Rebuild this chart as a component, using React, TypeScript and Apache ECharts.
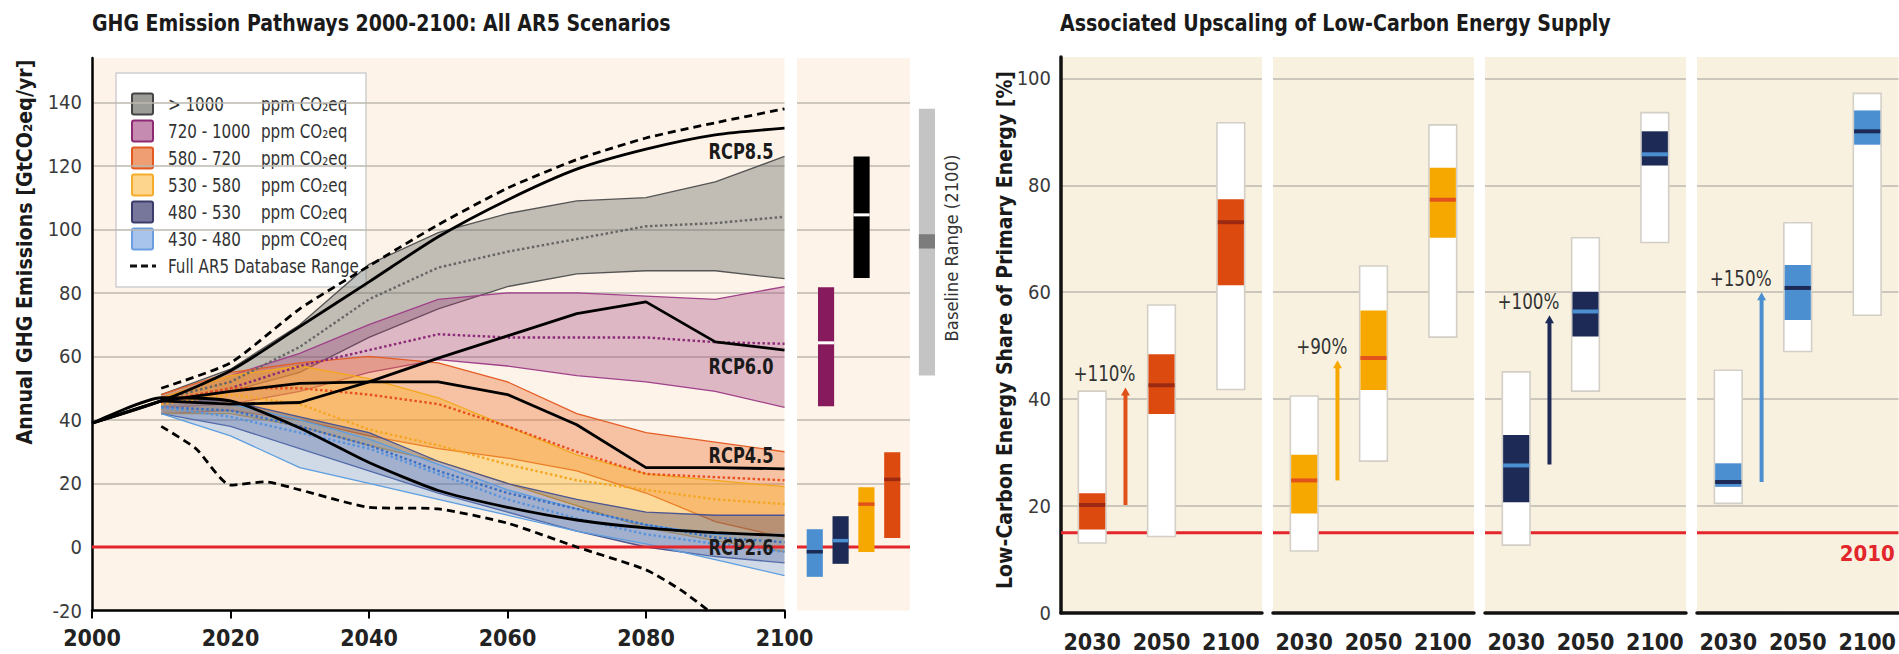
import React, { useEffect, useRef } from 'react';
import * as echarts from 'echarts';

const NARROW = '"Liberation Sans Narrow", "Arial Narrow", "DejaVu Sans Condensed", "Liberation Sans", sans-serif';
const BG_LEFT = '#fdf3e8';
const BG_RIGHT = '#f9f1e0';
const GRID_LINE = '#bdb9b0';
const RED = '#e2262b';

// ================= Left panel: GHG emission pathways =================
const bandYears = [2010, 2020, 2030, 2040, 2050, 2060, 2070, 2080, 2090, 2100];

const over1000Low = [45, 49, 55, 66, 75, 82, 86, 87, 87, 84.5];
const over1000High = [48, 56, 70, 89, 99, 105, 109, 110, 115, 123];
const over1000Median = [46.5, 52, 63, 78, 88, 93, 97, 101, 102, 104];

const ppm720Low = [44, 45, 49, 55, 59, 57, 54, 52, 49, 44];
const ppm720High = [47, 54, 61, 70, 78, 80, 80, 79, 78, 82];
const ppm720Median = [45.5, 50, 57, 62, 67, 66, 66, 66, 64.5, 64];

const ppm580Low = [42, 43, 40, 35, 31, 28, 24, 17, 8, 3];
const ppm580High = [48, 55, 58, 60, 58, 52, 42, 36, 33, 30];
const ppm580Median = [46, 50, 50, 48, 45, 38, 30, 23, 22, 21];

const ppm530Low = [42, 42, 38, 32, 27, 20, 13, 6, 2, -1.5];
const ppm530High = [47, 54, 57, 53, 47, 38, 29, 23, 21, 19];
const ppm530Median = [45, 48, 45, 37, 32, 26, 21, 18, 15, 13.5];

const ppm480Low = [42, 38, 31, 24, 17, 11, 5, 0, -3, -5];
const ppm480High = [46, 46, 41, 36, 27, 20, 15, 11, 10, 10];
const ppm480Median = [44, 43, 38, 32, 24, 17, 12, 7, 3, 1.5];

const ppm430Low = [42, 35, 25, 20, 15, 10, 5, 1, -4, -9];
const ppm430High = [46, 45, 40, 34, 26, 18, 12, 7, 4, 4];
const ppm430Median = [44, 41, 36, 31, 23, 15, 9, 4, 1, -1.5];

const rcpYears = [2000, 2010, 2020, 2030, 2040, 2050, 2060, 2070, 2080, 2090, 2100];
const rcp85 = [39, 46, 55.5, 69.4, 83.5, 97.7, 109.3, 119, 125.3, 129.8, 131.9];
const rcp60 = [39, 46, 45, 45.5, 52, 59.5, 66.5, 73.5, 77.2, 64.6, 62];
const rcp45 = [39, 46, 49, 51.5, 52, 52, 48, 38.5, 25, 25, 24.6];
const rcp26 = [39, 47, 46, 37.5, 26.6, 17.8, 12.5, 8.5, 6, 4.5, 3.6];

const rcpLabelNames = ['RCP8.5', 'RCP6.0', 'RCP4.5', 'RCP2.6'];
const rcpLabelValue = [124.4, 56.7, 28.7, -0.3];

const fullUpperYears = [2010, 2020, 2030, 2040, 2050, 2060, 2070, 2080, 2090, 2100];
const fullUpper = [50, 58, 75, 88.5, 101.5, 113, 122, 128.8, 133.6, 138];
const fullLowerYears = [2010, 2015, 2020, 2025, 2030, 2040, 2050, 2060, 2070, 2080, 2085, 2089];
const fullLower = [38, 31, 19.5, 20.5, 18, 12.5, 12, 7.5, 0, -7.2, -13.5, -20];

// 2100 ranges (side panel)
const range2100Slot = [1.1, 1.8, 2.7, 4.0, 4.3, 5.9];
const range2100Low = [-9.4, 44.3, -5.3, 84.7, -1.6, 2.8];
const range2100High = [5.6, 81.8, 9.7, 123, 18.8, 29.8];
const range2100Median = [-1.5, 64.3, 2, 104.6, 13.5, 21.3];
const range2100Color = ['#4b8fd0', '#861a5c', '#1d2a56', '#000000', '#f6a800', '#dd4a10'];
const range2100MedianColor = ['#1d2a56', '#ffffff', '#4b8fd0', '#ffffff', '#e2531c', '#9c2a12'];

const baselineSlot = 8.05;
const baselineRange = [54, 138];
const baselineMedianBand = [94, 98.5];

// legend
const legendRanges = ['> 1000', '720 - 1000', '580 - 720', '530 - 580', '480 - 530', '430 - 480'];
const legendFill = ['#9c9c98', '#c58bb0', '#ef9d72', '#fdd58c', '#77779b', '#a9c4ec'];
const legendBorder = ['#444444', '#8e2a74', '#e05a22', '#f3ad2a', '#3c3c6c', '#6a9ede'];

// ================= Right panel: low-carbon energy share =================
const shareYears = ['2030', '2050', '2100'];
const share2010 = 15;

const share580FullLow = [13.1, 14.3, 41.8];
const share580FullHigh = [41.5, 57.6, 91.7];
const share580BoxLow = [15.6, 37.2, 61.3];
const share580BoxHigh = [22.4, 48.4, 77.4];
const share580Median = [20.2, 42.6, 73.1];

const share530FullLow = [11.6, 28.4, 51.6];
const share530FullHigh = [40.6, 64.9, 91.3];
const share530BoxLow = [18.6, 41.7, 70.2];
const share530BoxHigh = [29.6, 56.6, 83.3];
const share530Median = [24.8, 47.7, 77.3];

const share480FullLow = [12.7, 41.5, 69.3];
const share480FullHigh = [45.1, 70.2, 93.6];
const share480BoxLow = [20.7, 51.7, 83.7];
const share480BoxHigh = [33.3, 60.1, 90.1];
const share480Median = [27.6, 56.4, 85.8];

const share430FullLow = [20.5, 48.9, 55.7];
const share430FullHigh = [45.4, 73, 97.2];
const share430BoxLow = [23.6, 54.8, 87.6];
const share430BoxHigh = [28, 65.1, 94];
const share430Median = [24.5, 60.8, 90.1];

const upscaleLabels = ['+110%', '+90%', '+100%', '+150%'];
const upscaleFrom = [20.2, 24.8, 27.8, 24.5];
const upscaleTo = [42.2, 47.3, 55.7, 60];
const upscaleSlot = 0.48;

const panelBoxColor = ['#dc4a0f', '#f6a800', '#1d2a56', '#4b8fd0'];
const panelMedianColor = ['#9c2a12', '#e2531c', '#4b8fd0', '#1d2a56'];
const panelArrowColor = ['#e0501a', '#f6a800', '#1d2a56', '#4b8fd0'];

const PANEL_LEFT = [1061, 1273, 1485, 1697];

let measureCtx: CanvasRenderingContext2D | null = null;
function fitScale(text: string, font: string, target: number) {
  if (!measureCtx) measureCtx = document.createElement('canvas').getContext('2d');
  if (!measureCtx) return 1;
  measureCtx.font = font;
  const w = measureCtx.measureText(text).width;
  return w > 0 ? target / w : 1;
}

function bandSeries(lows: number[], highs: number[], fill: string, stroke: string) {
  return {
    type: 'custom',
    xAxisIndex: 0,
    yAxisIndex: 0,
    silent: true,
    z: 2,
    clip: true,
    data: bandYears.map((y, i) => [y, lows[i], highs[i]]),
    renderItem: (params: any, api: any) => {
      if (params.dataIndex !== 0) return null;
      const upper = bandYears.map((y, i) => api.coord([y, highs[i]]));
      const lower = bandYears.map((y, i) => api.coord([y, lows[i]]));
      return {
        type: 'group',
        children: [
          { type: 'polygon', shape: { points: upper.concat(lower.slice().reverse()) }, style: { fill, stroke: 'none' } },
          { type: 'polyline', shape: { points: upper }, style: { stroke, lineWidth: 1.3, fill: 'none' } },
          { type: 'polyline', shape: { points: lower }, style: { stroke, lineWidth: 1.3, fill: 'none' } },
        ],
      };
    },
  };
}

function lineSeries(years: number[], values: number[], color: string, width: number, type: any, smooth: number | boolean, z: number) {
  return {
    type: 'line',
    xAxisIndex: 0,
    yAxisIndex: 0,
    data: years.map((y, i) => [y, values[i]]),
    showSymbol: false,
    symbol: 'none',
    smooth,
    silent: true,
    z,
    lineStyle: { color, width, type, cap: 'butt' },
  };
}

function buildOption() {
  const titleFont = `bold 23px ${NARROW}`;
  const axisNameFont = `bold 22px ${NARROW}`;
  const legendFont = `20px ${NARROW}`;
  const leftTitle = 'GHG Emission Pathways 2000-2100: All AR5 Scenarios';
  const rightTitle = 'Associated Upscaling of Low-Carbon Energy Supply';
  const leftYName = 'Annual GHG Emissions [GtCO₂eq/yr]';
  const rightYName = 'Low-Carbon Energy Share of Primary Energy [%]';
  const baselineName = 'Baseline Range (2100)';
  const legendScale = fitScale('Full AR5 Database Range', legendFont, 191);
  const rcpFont = `bold 21px ${NARROW}`;
  const rcpScale = fitScale('RCP8.5', rcpFont, 65);
  const upFont = `21px ${NARROW}`;
  const upScale = fitScale('+110%', upFont, 62);
  const baseFont = `18px ${NARROW}`;

  const legendRowY = [104, 131, 158, 185, 212, 239, 266];
  const legendChildren: any[] = [
    { type: 'rect', shape: { x: 116, y: 73, width: 250, height: 214 }, style: { fill: '#ffffff', stroke: '#cfcfcf', lineWidth: 1.5 } },
  ];
  legendRanges.forEach((t, i) => {
    const y = legendRowY[i];
    legendChildren.push({ type: 'rect', shape: { x: 132, y: y - 10.5, width: 21, height: 21, r: 2 }, style: { fill: legendFill[i], stroke: legendBorder[i], lineWidth: 2 } });
    legendChildren.push({ type: 'text', x: 168, y, scaleX: legendScale, style: { text: t, font: legendFont, fill: '#333', textAlign: 'left', textVerticalAlign: 'middle' } });
    legendChildren.push({ type: 'text', x: 261, y, scaleX: legendScale, style: { text: 'ppm CO₂eq', font: legendFont, fill: '#333', textAlign: 'left', textVerticalAlign: 'middle' } });
  });
  legendChildren.push({ type: 'line', shape: { x1: 130, y1: legendRowY[6], x2: 156, y2: legendRowY[6] }, style: { stroke: '#111', lineWidth: 3, lineDash: [7, 4] } });
  legendChildren.push({ type: 'text', x: 168, y: legendRowY[6], scaleX: legendScale, style: { text: 'Full AR5 Database Range', font: legendFont, fill: '#333', textAlign: 'left', textVerticalAlign: 'middle' } });

  const graphic: any[] = [
    { type: 'text', x: 92, y: 23, scaleX: fitScale(leftTitle, titleFont, 579), style: { text: leftTitle, font: titleFont, fill: '#1a1a1a', textAlign: 'left', textVerticalAlign: 'middle' } },
    { type: 'text', x: 1060, y: 23, scaleX: fitScale(rightTitle, titleFont, 551), style: { text: rightTitle, font: titleFont, fill: '#1a1a1a', textAlign: 'left', textVerticalAlign: 'middle' } },
    { type: 'text', x: 24, y: 252, rotation: Math.PI / 2, scaleX: fitScale(leftYName, axisNameFont, 385), style: { text: leftYName, font: axisNameFont, fill: '#1a1a1a', textAlign: 'center', textVerticalAlign: 'middle' } },
    { type: 'text', x: 1004, y: 330, rotation: Math.PI / 2, scaleX: fitScale(rightYName, axisNameFont, 518), style: { text: rightYName, font: axisNameFont, fill: '#1a1a1a', textAlign: 'center', textVerticalAlign: 'middle' } },
    { type: 'text', x: 952, y: 248, rotation: Math.PI / 2, scaleX: fitScale(baselineName, baseFont, 187), style: { text: baselineName, font: baseFont, fill: '#333', textAlign: 'center', textVerticalAlign: 'middle' } },
    { type: 'group', z: 50, children: legendChildren },
  ];

  const grids: any[] = [
    { left: 92, top: 58, width: 692.5, height: 552.5, show: true, backgroundColor: BG_LEFT, borderWidth: 0 },
    { left: 797, top: 58, width: 113, height: 552.5, show: true, backgroundColor: BG_LEFT, borderWidth: 0 },
  ];
  PANEL_LEFT.forEach((l, k) => grids.push({ left: l, top: 57, width: k === 3 ? 202 : 201, height: 556, show: true, backgroundColor: BG_RIGHT, borderWidth: 0 }));

  const xAxes: any[] = [
    {
      gridIndex: 0, type: 'value', min: 2000, max: 2100, interval: 20,
      axisLine: { onZero: false, lineStyle: { color: '#000', width: 2.5 } },
      axisTick: { show: true, length: 8, lineStyle: { color: '#000', width: 2 } },
      axisLabel: { formatter: (v: number) => String(v), fontFamily: NARROW, fontSize: 23, fontWeight: 'bold', color: '#222', margin: 16 },
      splitLine: { show: false },
    },
    { gridIndex: 1, type: 'value', min: 0, max: 7, show: false },
  ];
  const yAxes: any[] = [
    {
      gridIndex: 0, type: 'value', min: -20, max: 154, interval: 20,
      axisLine: { show: true, onZero: false, lineStyle: { color: '#000', width: 2.5 } },
      axisTick: { show: false },
      axisLabel: { fontFamily: NARROW, fontSize: 20, color: '#3a3a3a', margin: 10, showMaxLabel: false },
      splitLine: { show: true, showMaxLine: false, showMinLine: false, lineStyle: { color: GRID_LINE, width: 1.5 } },
    },
    {
      gridIndex: 1, type: 'value', min: -20, max: 154, interval: 20,
      axisLine: { show: false }, axisTick: { show: false }, axisLabel: { show: false },
      splitLine: { show: true, showMaxLine: false, showMinLine: false, lineStyle: { color: GRID_LINE, width: 1.5 } },
    },
  ];
  PANEL_LEFT.forEach((_, k) => {
    xAxes.push({
      gridIndex: k + 2, type: 'value', min: -0.45, max: 2.45,
      axisLine: { onZero: false, lineStyle: { color: '#111', width: 3.5 } },
      axisTick: { show: false },
      axisLabel: {
        customValues: [0, 1, 2],
        formatter: (v: number) => shareYears[Math.round(v)] ?? '',
        fontFamily: NARROW, fontSize: 23, fontWeight: 'bold', color: '#222', margin: 17,
      },
      splitLine: { show: false },
    });
    yAxes.push({
      gridIndex: k + 2, type: 'value', min: 0, max: 104, interval: 20,
      axisLine: { show: k === 0, onZero: false, lineStyle: { color: '#111', width: 3.5 } },
      axisTick: { show: false },
      axisLabel: { show: k === 0, fontFamily: NARROW, fontSize: 20, color: '#3a3a3a', margin: 10, showMaxLabel: false },
      splitLine: { show: true, showMaxLine: false, showMinLine: false, lineStyle: { color: GRID_LINE, width: 1.5 } },
    });
  });

  const series: any[] = [
    bandSeries(over1000Low, over1000High, 'rgba(95,100,95,0.38)', '#555555'),
    bandSeries(ppm720Low, ppm720High, 'rgba(160,55,120,0.32)', '#a0408a'),
    bandSeries(ppm580Low, ppm580High, 'rgba(235,105,45,0.36)', '#e35d25'),
    bandSeries(ppm530Low, ppm530High, 'rgba(250,178,35,0.40)', '#f2a81d'),
    bandSeries(ppm480Low, ppm480High, 'rgba(55,62,125,0.33)', '#4a5592'),
    bandSeries(ppm430Low, ppm430High, 'rgba(105,158,225,0.30)', '#5c9ee0'),
    lineSeries(bandYears, over1000Median, '#666666', 2.4, [2.5, 2.5], false, 4),
    lineSeries(bandYears, ppm720Median, '#8b2a78', 2.4, [2.5, 2.5], false, 4),
    lineSeries(bandYears, ppm580Median, '#e8501e', 2.4, [2.5, 2.5], false, 4),
    lineSeries(bandYears, ppm530Median, '#f5a623', 2.4, [2.5, 2.5], false, 4),
    lineSeries(bandYears, ppm480Median, '#3b6fc4', 2.4, [2.5, 2.5], false, 4),
    lineSeries(bandYears, ppm430Median, '#5a95dc', 2.4, [2.5, 2.5], false, 4),
    // zero line
    {
      type: 'line', xAxisIndex: 0, yAxisIndex: 0, data: [[2000, 0], [2100, 0]], showSymbol: false, symbol: 'none', silent: true, z: 5,
      lineStyle: { color: RED, width: 3 },
    },
    lineSeries(rcpYears, rcp85, '#000', 2.8, 'solid', 0.25, 6),
    lineSeries(rcpYears, rcp60, '#000', 2.8, 'solid', false, 6),
    lineSeries(rcpYears, rcp45, '#000', 2.8, 'solid', false, 6),
    lineSeries(rcpYears, rcp26, '#000', 2.8, 'solid', 0.2, 6),
    lineSeries(fullUpperYears, fullUpper, '#000', 2.8, [8, 5], 0.2, 6),
    lineSeries(fullLowerYears, fullLower, '#000', 2.8, [8, 5], 0.2, 6),
    {
      type: 'custom', xAxisIndex: 0, yAxisIndex: 0, clip: false, z: 10, silent: true,
      data: rcpLabelNames.map((_, i) => [2100, rcpLabelValue[i]]),
      renderItem: (params: any, api: any) => {
        const p = api.coord([api.value(0), api.value(1)]);
        return {
          type: 'text', x: p[0] - 11, y: p[1], scaleX: rcpScale,
          style: { text: rcpLabelNames[params.dataIndex], font: rcpFont, fill: '#1a1a1a', textAlign: 'right', textVerticalAlign: 'middle' },
        };
      },
    },
    // side panel zero line
    {
      type: 'line', xAxisIndex: 1, yAxisIndex: 1, data: [[0, 0], [7, 0]], showSymbol: false, symbol: 'none', silent: true, z: 1,
      lineStyle: { color: RED, width: 3 },
    },
    {
      type: 'custom', xAxisIndex: 1, yAxisIndex: 1, clip: false, z: 3, silent: true,
      data: range2100Slot.map((s, i) => [s, range2100Low[i], range2100High[i], range2100Median[i]]),
      renderItem: (params: any, api: any) => {
        const i = params.dataIndex;
        const s = api.value(0);
        const top = api.coord([s, api.value(2)]);
        const bot = api.coord([s, api.value(1)]);
        const med = api.coord([s, api.value(3)]);
        const w = api.size([1, 0])[0];
        const x0 = top[0] - w / 2;
        const mh = range2100MedianColor[i] === '#ffffff' ? 3 : 3.5;
        return {
          type: 'group',
          children: [
            { type: 'rect', shape: { x: x0, y: top[1], width: w, height: bot[1] - top[1] }, style: { fill: range2100Color[i] } },
            { type: 'rect', shape: { x: x0, y: med[1] - mh / 2, width: w, height: mh }, style: { fill: range2100MedianColor[i] } },
          ],
        };
      },
    },
    {
      type: 'custom', xAxisIndex: 1, yAxisIndex: 1, clip: false, z: 3, silent: true,
      data: [[baselineSlot, baselineRange[0], baselineRange[1], baselineMedianBand[0], baselineMedianBand[1]]],
      renderItem: (params: any, api: any) => {
        const s = api.value(0);
        const top = api.coord([s, api.value(2)]);
        const bot = api.coord([s, api.value(1)]);
        const mTop = api.coord([s, api.value(4)]);
        const mBot = api.coord([s, api.value(3)]);
        const w = api.size([1, 0])[0];
        const x0 = top[0] - w / 2;
        return {
          type: 'group',
          children: [
            { type: 'rect', shape: { x: x0, y: top[1], width: w, height: bot[1] - top[1] }, style: { fill: '#c4c4c4' } },
            { type: 'rect', shape: { x: x0, y: mTop[1], width: w, height: mBot[1] - mTop[1] }, style: { fill: '#7c7c7c' } },
          ],
        };
      },
    },
  ];

  const panels = [
    [share580FullLow, share580FullHigh, share580BoxLow, share580BoxHigh, share580Median],
    [share530FullLow, share530FullHigh, share530BoxLow, share530BoxHigh, share530Median],
    [share480FullLow, share480FullHigh, share480BoxLow, share480BoxHigh, share480Median],
    [share430FullLow, share430FullHigh, share430BoxLow, share430BoxHigh, share430Median],
  ];

  panels.forEach((p, k) => {
    series.push({
      type: 'line', xAxisIndex: k + 2, yAxisIndex: k + 2, data: [[-0.45, share2010], [2.45, share2010]], showSymbol: false, symbol: 'none', silent: true, z: 1,
      lineStyle: { color: RED, width: 3 },
    });
    series.push({
      type: 'custom', xAxisIndex: k + 2, yAxisIndex: k + 2, clip: false, z: 3, silent: true,
      data: shareYears.map((_, i) => [i, p[0][i], p[1][i], p[2][i], p[3][i], p[4][i]]),
      renderItem: (params: any, api: any) => {
        const x = api.value(0);
        const w = api.size([0.4, 0])[0];
        const cx = api.coord([x, 0])[0];
        const yFH = api.coord([x, api.value(2)])[1];
        const yFL = api.coord([x, api.value(1)])[1];
        const yBH = api.coord([x, api.value(4)])[1];
        const yBL = api.coord([x, api.value(3)])[1];
        const yM = api.coord([x, api.value(5)])[1];
        const x0 = cx - w / 2;
        return {
          type: 'group',
          children: [
            { type: 'rect', shape: { x: x0, y: yFH, width: w, height: yFL - yFH }, style: { fill: '#ffffff', stroke: '#d3cfc7', lineWidth: 1.6 } },
            { type: 'rect', shape: { x: x0 + 0.8, y: yBH, width: w - 1.6, height: yBL - yBH }, style: { fill: panelBoxColor[k] } },
            { type: 'rect', shape: { x: x0 + 0.8, y: yM - 2, width: w - 1.6, height: 4 }, style: { fill: panelMedianColor[k] } },
          ],
        };
      },
    });
    series.push({
      type: 'custom', xAxisIndex: k + 2, yAxisIndex: k + 2, clip: false, z: 4, silent: true,
      data: [[upscaleSlot, upscaleFrom[k], upscaleTo[k]]],
      renderItem: (params: any, api: any) => {
        const p0 = api.coord([api.value(0), api.value(1)]);
        const p1 = api.coord([api.value(0), api.value(2)]);
        const head = 8;
        const color = panelArrowColor[k];
        return {
          type: 'group',
          children: [
            { type: 'line', shape: { x1: p0[0], y1: p0[1], x2: p1[0], y2: p1[1] + head - 1 }, style: { stroke: color, lineWidth: 4 } },
            { type: 'polygon', shape: { points: [[p1[0] - 4.5, p1[1] + head], [p1[0] + 4.5, p1[1] + head], [p1[0], p1[1]]] }, style: { fill: color } },
            {
              type: 'text', x: p1[0] + 10, y: p1[1] - 13, scaleX: upScale,
              style: { text: upscaleLabels[k], font: upFont, fill: '#333', textAlign: 'right', textVerticalAlign: 'middle' },
            },
          ],
        };
      },
    });
  });

  series.push({
    type: 'custom', xAxisIndex: 5, yAxisIndex: 5, clip: false, z: 4, silent: true,
    data: [[2, share2010]],
    renderItem: (params: any, api: any) => {
      const p = api.coord([api.value(0), api.value(1)]);
      return {
        type: 'text', x: p[0], y: p[1] + 21,
        style: { text: '2010', font: `bold 22px ${NARROW}`, fill: RED, textAlign: 'center', textVerticalAlign: 'middle' },
      };
    },
  });

  return {
    animation: false,
    backgroundColor: '#ffffff',
    grid: grids,
    xAxis: xAxes,
    yAxis: yAxes,
    series,
    graphic,
  };
}

export default function App() {
  const ref = useRef<HTMLDivElement>(null);
  useEffect(() => {
    if (!ref.current) return;
    const chart = echarts.init(ref.current, undefined, { renderer: 'svg' });
    chart.setOption(buildOption() as any);
    return () => chart.dispose();
  }, []);
  return <div ref={ref} style={{ position: 'absolute', left: 0, top: 0, width: 1899, height: 654, background: '#fff' }} />;
}
